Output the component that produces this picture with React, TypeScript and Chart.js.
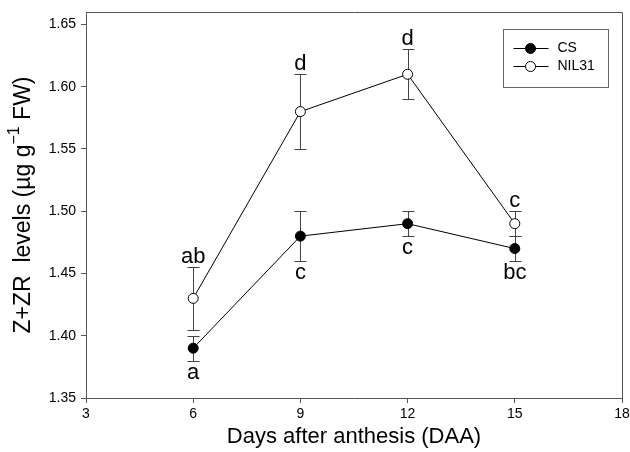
import React, { useEffect, useRef } from "react";
import { Chart, registerables } from "chart.js";

Chart.register(...registerables);

const days = [6, 9, 12, 15];
const csMean = [1.39, 1.48, 1.49, 1.47];
const csErr = [0.01, 0.02, 0.01, 0.01];
const csLetters = ["a", "c", "c", "bc"];
const nilMean = [1.43, 1.58, 1.61, 1.49];
const nilErr = [0.025, 0.03, 0.02, 0.01];
const nilLetters = ["ab", "d", "d", "c"];
const seriesNames = ["CS", "NIL31"];
const xTickValues = [3, 6, 9, 12, 15, 18];
const yTickValues = [1.35, 1.4, 1.45, 1.5, 1.55, 1.6, 1.65];
const xTitle = "Days after anthesis (DAA)";
const yTitleMain = "Z+ZR  levels (\u00B5g g";
const yTitleSup = "\u22121";
const yTitleEnd = " FW)";

const FONT = "'Liberation Sans', Arial, sans-serif";
const AXIS = "#555555";

const extras = {
  id: "extras",
  beforeDatasetsDraw(chart: any) {
    const ctx = chart.ctx;
    const xs = chart.scales.x;
    const ys = chart.scales.y;
    const sets = [
      { m: csMean, e: csErr },
      { m: nilMean, e: nilErr },
    ];
    ctx.save();
    ctx.strokeStyle = "#444";
    ctx.lineWidth = 1;
    sets.forEach((s) => {
      days.forEach((d, i) => {
        const px = Math.round(xs.getPixelForValue(d)) + 0.5;
        const top = Math.round(ys.getPixelForValue(s.m[i] + s.e[i])) + 0.5;
        const bot = Math.round(ys.getPixelForValue(s.m[i] - s.e[i])) + 0.5;
        ctx.beginPath();
        ctx.moveTo(px, top);
        ctx.lineTo(px, bot);
        ctx.moveTo(px - 6, top);
        ctx.lineTo(px + 6, top);
        ctx.moveTo(px - 6, bot);
        ctx.lineTo(px + 6, bot);
        ctx.stroke();
      });
    });
    ctx.restore();
  },
  afterDraw(chart: any) {
    const ctx = chart.ctx;
    const xs = chart.scales.x;
    const ys = chart.scales.y;
    const a = chart.chartArea;
    ctx.save();
    // frame top/right
    ctx.strokeStyle = AXIS;
    ctx.lineWidth = 1;
    ctx.beginPath();
    ctx.moveTo(Math.round(a.left) + 0.5, Math.round(a.top) + 0.5);
    ctx.lineTo(Math.round(a.right) + 0.5, Math.round(a.top) + 0.5);
    ctx.lineTo(Math.round(a.right) + 0.5, Math.round(a.bottom) + 0.5);
    ctx.stroke();

    // letters
    ctx.fillStyle = "#000";
    ctx.font = `22px ${FONT}`;
    ctx.textAlign = "center";
    ctx.textBaseline = "alphabetic";
    days.forEach((d, i) => {
      const px = xs.getPixelForValue(d);
      const topN = ys.getPixelForValue(nilMean[i] + nilErr[i]);
      ctx.fillText(nilLetters[i], px, topN - 4);
      const botC = ys.getPixelForValue(csMean[i] - csErr[i]);
      ctx.fillText(csLetters[i], px, botC + 18);
    });

    // legend
    const bx = Math.round(a.right) - 119 + 0.5;
    const by = Math.round(a.top) + 17 + 0.5;
    ctx.strokeStyle = "#666";
    ctx.strokeRect(bx, by, 105, 58);
    const rows = [
      { name: seriesNames[0], fill: "#000", y: by + 19 },
      { name: seriesNames[1], fill: "#fff", y: by + 37 },
    ];
    rows.forEach((r) => {
      ctx.strokeStyle = "#000";
      ctx.beginPath();
      ctx.moveTo(bx + 10, r.y);
      ctx.lineTo(bx + 45, r.y);
      ctx.stroke();
      ctx.beginPath();
      ctx.arc(bx + 27, r.y, 5, 0, Math.PI * 2);
      ctx.fillStyle = r.fill;
      ctx.fill();
      ctx.stroke();
      ctx.fillStyle = "#000";
      ctx.font = `14px ${FONT}`;
      ctx.textAlign = "left";
      ctx.textBaseline = "middle";
      ctx.fillText(r.name, bx + 54, r.y);
    });

    // x title
    ctx.font = `22px ${FONT}`;
    ctx.textAlign = "center";
    ctx.textBaseline = "middle";
    ctx.fillStyle = "#000";
    ctx.fillText(xTitle, (a.left + a.right) / 2, 437);

    // y title with superscript
    const cy = (a.top + a.bottom) / 2;
    ctx.translate(24, cy);
    ctx.rotate(-Math.PI / 2);
    ctx.font = `23px ${FONT}`;
    const w1 = ctx.measureText(yTitleMain).width;
    const w3 = ctx.measureText(yTitleEnd).width;
    ctx.font = `16px ${FONT}`;
    const w2 = ctx.measureText(yTitleSup).width;
    let x0 = -(w1 + w2 + w3) / 2;
    ctx.textAlign = "left";
    ctx.textBaseline = "middle";
    ctx.font = `23px ${FONT}`;
    ctx.fillText(yTitleMain, x0, 0);
    x0 += w1;
    ctx.font = `16px ${FONT}`;
    ctx.fillText(yTitleSup, x0, -9);
    x0 += w2;
    ctx.font = `23px ${FONT}`;
    ctx.fillText(yTitleEnd, x0, 0);
    ctx.restore();
  },
};

export default function App() {
  const ref = useRef<HTMLCanvasElement | null>(null);
  useEffect(() => {
    document.body.style.margin = "0";
    const canvas = ref.current;
    if (!canvas) return;
    const chart = new Chart(canvas, {
      type: "line",
      data: {
        datasets: [
          {
            label: seriesNames[0],
            data: days.map((d, i) => ({ x: d, y: csMean[i] })),
            borderColor: "#000",
            borderWidth: 1,
            pointRadius: 5,
            pointBackgroundColor: "#000",
            pointBorderColor: "#000",
            pointBorderWidth: 1,
            fill: false,
            tension: 0,
          },
          {
            label: seriesNames[1],
            data: days.map((d, i) => ({ x: d, y: nilMean[i] })),
            borderColor: "#000",
            borderWidth: 1,
            pointRadius: 5,
            pointBackgroundColor: "#fff",
            pointBorderColor: "#000",
            pointBorderWidth: 1,
            fill: false,
            tension: 0,
          },
        ],
      },
      options: {
        responsive: false,
        animation: false,
        devicePixelRatio: 1,
        layout: { padding: { top: 12, right: 8, left: 0, bottom: 0 } },
        plugins: { legend: { display: false }, tooltip: { enabled: false } },
        scales: {
          x: {
            type: "linear",
            min: 3,
            max: 18,
            afterBuildTicks: (s: any) => {
              s.ticks = xTickValues.map((v) => ({ value: v }));
            },
            afterFit: (s: any) => {
              s.height = 54;
              s.paddingLeft = 0;
              s.paddingRight = 0;
            },
            grid: { drawOnChartArea: false, drawTicks: true, tickLength: 5, color: AXIS },
            border: { color: AXIS, width: 1 },
            ticks: {
              color: "#000",
              font: { family: FONT, size: 14 },
              padding: 3,
              maxRotation: 0,
              callback: (v: any) => String(v),
            },
          },
          y: {
            type: "linear",
            min: 1.35,
            max: 1.66,
            afterBuildTicks: (s: any) => {
              s.ticks = yTickValues.map((v) => ({ value: v }));
            },
            afterFit: (s: any) => {
              s.width = 86;
              s.paddingTop = 0;
              s.paddingBottom = 0;
            },
            grid: { drawOnChartArea: false, drawTicks: true, tickLength: 5, color: AXIS },
            border: { color: AXIS, width: 1 },
            ticks: {
              color: "#000",
              font: { family: FONT, size: 14 },
              padding: 5,
              callback: (v: any) => Number(v).toFixed(2),
            },
          },
        },
      },
      plugins: [extras],
    } as any);
    return () => chart.destroy();
  }, []);
  return <canvas ref={ref} width={630} height={452} style={{ display: "block" }} />;
}
